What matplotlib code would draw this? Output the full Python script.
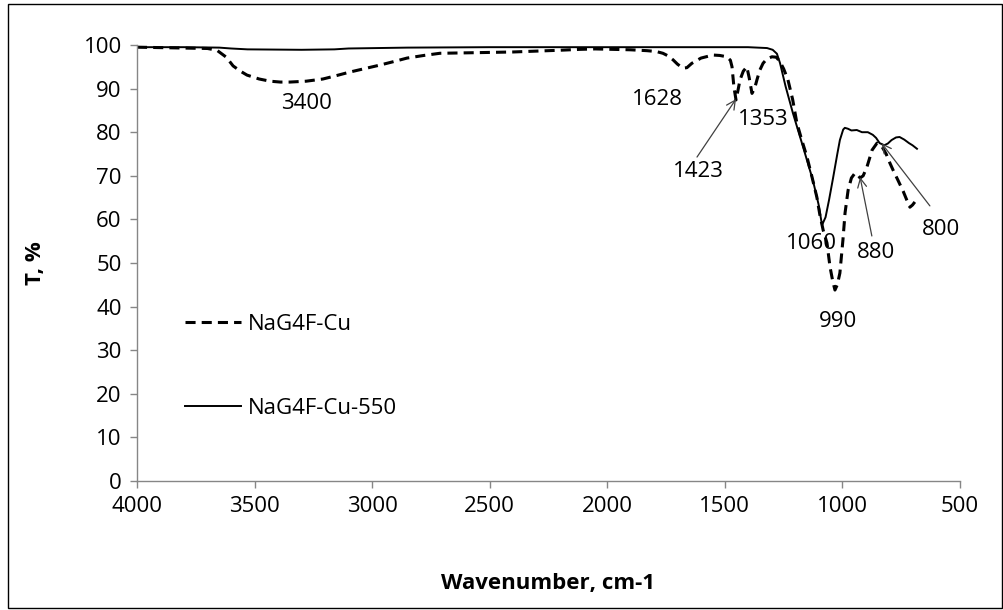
import matplotlib
matplotlib.use("Agg")
import matplotlib.pyplot as plt
from matplotlib.patches import Rectangle

# FTIR spectra: wavenumber (cm-1) and transmittance (%)
wn_cu = [4000, 3900, 3800, 3700, 3660, 3620, 3591, 3560, 3532, 3480, 3434, 3390, 3349,
         3280, 3209, 3150, 3094, 3030, 2966, 2900, 2851, 2780, 2711, 2600, 2498, 2400,
         2300, 2200, 2115, 2050, 1975, 1900, 1830, 1790, 1762, 1740, 1719, 1700, 1677,
         1660, 1639, 1600, 1549, 1520, 1490, 1475, 1468, 1460, 1451, 1443, 1434, 1420,
         1405, 1395, 1383, 1372, 1362, 1350, 1336, 1320, 1298, 1280, 1264, 1248, 1230,
         1210, 1192, 1170, 1149, 1128, 1107, 1094, 1080, 1064, 1051, 1040, 1030, 1020,
         1009, 996, 987, 974, 960, 945, 935, 923, 910, 894, 872, 851, 830, 812, 796,
         780, 762, 740, 724, 711, 700, 690]
t_cu = [99.5, 99.4, 99.3, 99.2, 98.8, 97.2, 95.2, 94.0, 93.1, 92.2, 91.7, 91.5, 91.5,
        91.7, 92.2, 93.0, 93.8, 94.6, 95.4, 96.3, 97.0, 97.6, 98.1, 98.2, 98.3, 98.4,
        98.6, 98.8, 99.0, 99.1, 99.0, 98.9, 98.7, 98.5, 98.1, 97.5, 96.6, 95.6, 94.7,
        94.8, 95.8, 97.0, 97.7, 97.6, 97.3, 96.5, 95.0, 90.4, 87.4, 89.5, 92.0, 94.0,
        95.0, 92.5, 88.9, 90.0, 92.0, 94.2, 95.8, 96.8, 97.3, 97.2, 96.2, 94.5, 92.0,
        87.5, 82.1, 78.0, 74.3, 69.8, 65.1, 61.0, 57.5, 54.6, 49.1, 46.0, 43.8, 45.0,
        47.7, 55.3, 61.5, 66.7, 69.5, 70.6, 70.3, 69.5, 70.0, 72.0, 75.9, 77.5, 76.7,
        75.0, 72.9, 71.0, 69.0, 66.5, 64.4, 62.8, 63.3, 64.0]

wn_550 = [4000, 3800, 3650, 3600, 3530, 3300, 3160, 3100, 2850, 2500, 2000, 1600, 1400,
          1319, 1295, 1277, 1264, 1240, 1209, 1165, 1124, 1100, 1085, 1070, 1055, 1038,
          1020, 1009, 995, 988, 975, 960, 937, 915, 890, 869, 855, 840, 820, 805, 789,
          770, 755, 735, 715, 700, 681]
t_550 = [99.5, 99.5, 99.4, 99.2, 99.0, 98.9, 99.0, 99.2, 99.4, 99.5, 99.5, 99.5, 99.5,
         99.3, 98.9, 98.0, 95.9, 90.5, 84.4, 76.5, 69.0, 63.5, 58.7, 60.5, 64.5, 69.5,
         75.0, 78.2, 80.6, 81.0, 80.8, 80.4, 80.5, 80.0, 80.0, 79.4, 78.7, 77.5, 77.0,
         77.4, 78.2, 78.8, 78.9, 78.3, 77.5, 77.0, 76.2]

series_labels = ["NaG4F-Cu", "NaG4F-Cu-550"]

# Band labels: text, label position (wn, T), arrow tail and tip (wn, T) or None
band_text = ["3400", "1628", "1353", "1423", "1060", "880", "990", "800"]
band_pos = [(3277, 86.5), (1787, 87.4), (1336, 82.8), (1613, 70.9),
            (1128, 54.4), (855, 52.5), (1017, 36.5), (578, 57.6)]
band_tail = [None, None, None, (1617, 74.3), None, (873, 56.2), None, (626, 63.1)]
band_tip = [None, None, None, (1451, 87.6), None, (923, 69.7), None, (832, 77.5)]

x_ticks = [4000, 3500, 3000, 2500, 2000, 1500, 1000, 500]
y_ticks = list(range(0, 101, 10))

FONT = "Open Sans"
FS = 16
plt.rcParams["font.family"] = FONT

fig = plt.figure(figsize=(10.04, 6.10), dpi=100)
ax = fig.add_axes([137 / 1004, 1 - 481 / 610, (959.5 - 137) / 1004, (481 - 45) / 610])

ax.plot(wn_cu, t_cu, color="black", lw=2.2, linestyle=(0, (3.3, 2.0)),
        label=series_labels[0], dash_capstyle="butt")
ax.plot(wn_550, t_550, color="black", lw=1.4, label=series_labels[1])

ax.set_xlim(4000, 500)
ax.set_ylim(0, 100)
ax.set_xticks(x_ticks)
ax.set_yticks(y_ticks)

gray = "#868686"
for side in ("top", "right"):
    ax.spines[side].set_visible(False)
for side in ("left", "bottom"):
    ax.spines[side].set_color(gray)
    ax.spines[side].set_linewidth(1.0)
ax.tick_params(axis="both", direction="out", length=5, width=1.0, color=gray,
               labelsize=FS, labelcolor="black")
ax.tick_params(axis="x", pad=6)
ax.tick_params(axis="y", pad=6)

ax.set_xlabel("Wavenumber, cm-1", fontsize=FS, fontweight="bold", labelpad=40)
ax.set_ylabel("T, %", fontsize=FS, fontweight="bold", labelpad=27)

for txt, pos, tail, tip in zip(band_text, band_pos, band_tail, band_tip):
    ax.text(pos[0], pos[1], txt, fontsize=FS, ha="center", va="center")
    if tip is not None:
        ax.annotate("", xy=tip, xytext=tail,
                    arrowprops=dict(arrowstyle="->", color="#404040", lw=0.9,
                                    shrinkA=0, shrinkB=0, mutation_scale=16))

leg = ax.legend(loc="center left", bbox_to_anchor=(0.0584, 0.2626), frameon=False,
                fontsize=FS, handlelength=2.5, handletextpad=0.35,
                labelspacing=2.85, borderpad=0, borderaxespad=0)

fig.patches.append(Rectangle((8 / 1004, 2 / 610), (1002 - 8) / 1004, (607 - 3) / 610,
                             transform=fig.transFigure, fill=False,
                             edgecolor="black", lw=1.0))

fig.savefig("out.png", dpi=100, facecolor="white")
